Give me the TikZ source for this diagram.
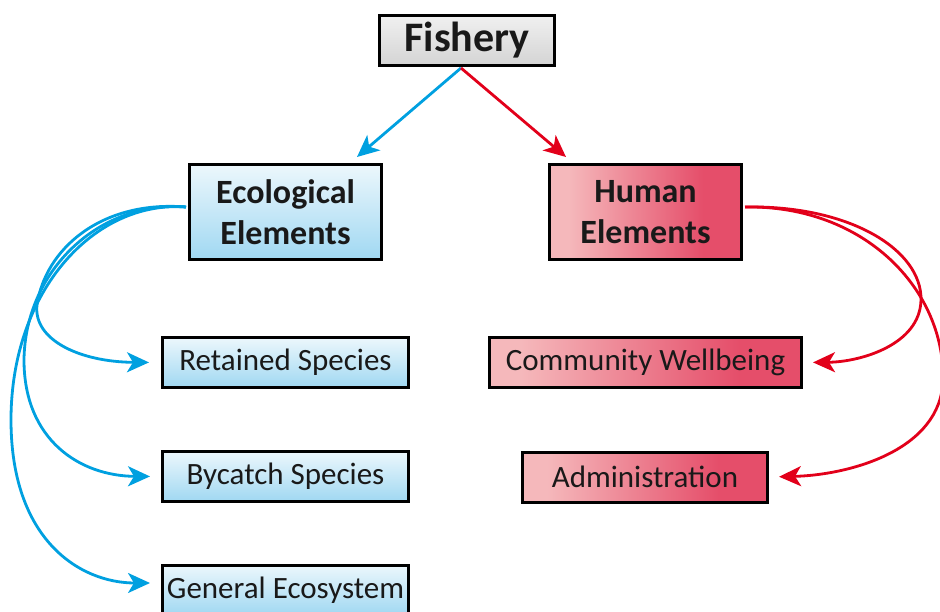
\documentclass[tikz,border=0pt]{standalone}
\usepackage{fontspec}
\setmainfont{Carlito}
\usetikzlibrary{arrows.meta,calc}
\definecolor{bluel}{RGB}{0,160,224}
\definecolor{redl}{RGB}{226,0,26}
\definecolor{blueD}{RGB}{160,216,242}
\definecolor{blueT}{RGB}{236,247,252}
\definecolor{pinkL}{RGB}{245,184,187}
\definecolor{redD}{RGB}{229,78,106}
\definecolor{grayT}{RGB}{240,240,240}
\definecolor{grayB}{RGB}{212,212,212}
\pgfdeclareverticalshading{blueshade}{100bp}{color(0bp)=(blueD); color(25bp)=(blueD); color(75bp)=(blueT); color(100bp)=(blueT)}
\pgfdeclarehorizontalshading{redshade}{100bp}{color(0bp)=(pinkL); color(30bp)=(pinkL); color(65bp)=(redD); color(100bp)=(redD)}
\pgfdeclareverticalshading{grayshade}{100bp}{color(0bp)=(grayB); color(25bp)=(grayB); color(75bp)=(grayT); color(100bp)=(grayT)}
\begin{document}
\begin{tikzpicture}[x=1pt,y=-1pt,
  box/.style={draw=black,line width=3pt,rectangle,inner sep=0pt,align=center,text=black!90},
  ecobox/.style={box,shading=blueshade},
  humbox/.style={box,shading=redshade},
  big/.style={font=\fontsize{34}{41}\selectfont\bfseries},
  small/.style={font=\fontsize{31}{34}\selectfont},
  blueline/.style={draw=bluel,line width=2.8pt,-{Stealth[length=22pt,width=20pt,inset=6pt]}},
  redline/.style={draw=redl,line width=2.8pt,-{Stealth[length=22pt,width=20pt,inset=6pt]}}]
\useasboundingbox (0,0) rectangle (940,612);
\node[box,shading=grayshade,minimum width=175pt,minimum height=50pt,font=\fontsize{42}{44}\selectfont\bfseries] (fish) at (467,40.5) {Fishery};
\node[ecobox,big,minimum width=192pt,minimum height=95pt] (eco) at (285.5,212) {Ecological\\Elements};
\node[humbox,big,minimum width=192pt,minimum height=95pt] (hum) at (645.5,212) {Human\\Elements};
\node[ecobox,small,minimum width=246pt,minimum height=50pt] (ret) at (285.5,362.5) {Retained Species};
\node[ecobox,small,minimum width=246pt,minimum height=50pt] (byc) at (285.5,476.5) {Bycatch Species};
\node[ecobox,small,minimum width=246pt,minimum height=50pt] (gen) at (285.5,590) {General Ecosystem};
\node[humbox,small,minimum width=312pt,minimum height=50pt] (com) at (645.5,362.5) {Community Wellbeing};
\node[humbox,small,minimum width=245pt,minimum height=50pt] (adm) at (645,477) {Administration};
\coordinate (fs) at (461,68);
\coordinate (ecoin) at (357,157);
\coordinate (humin) at (566,157);
\coordinate (ecoW) at (186,207);
\coordinate (humE) at (745,207);
\draw[blueline] (fs) -- (ecoin);
\draw[redline] (fs) -- (humin);
\draw[blueline,shorten >=12pt] (ecoW) .. controls (100,200) and (45,250) .. (37,305) .. controls (33,340) and (80,362) .. (ret.west);
\draw[blueline,shorten >=11pt] (ecoW) .. controls (100,200) and (25,270) .. (24,360) .. controls (24,440) and (80,476) .. (byc.west);
\draw[blueline,shorten >=11pt] (ecoW) .. controls (95,200) and (11,290) .. (11,420) .. controls (11,540) and (80,583) .. (gen.west |- 0,583);
\draw[redline,shorten >=10pt] (humE) .. controls (850,205) and (922,250) .. (921,300) .. controls (920,345) and (860,362) .. (com.east);
\draw[redline,shorten >=10pt] (humE) .. controls (865,205) and (945,290) .. (943,380) .. controls (941,450) and (850,475) .. (adm.east);
\end{tikzpicture}
\end{document}
